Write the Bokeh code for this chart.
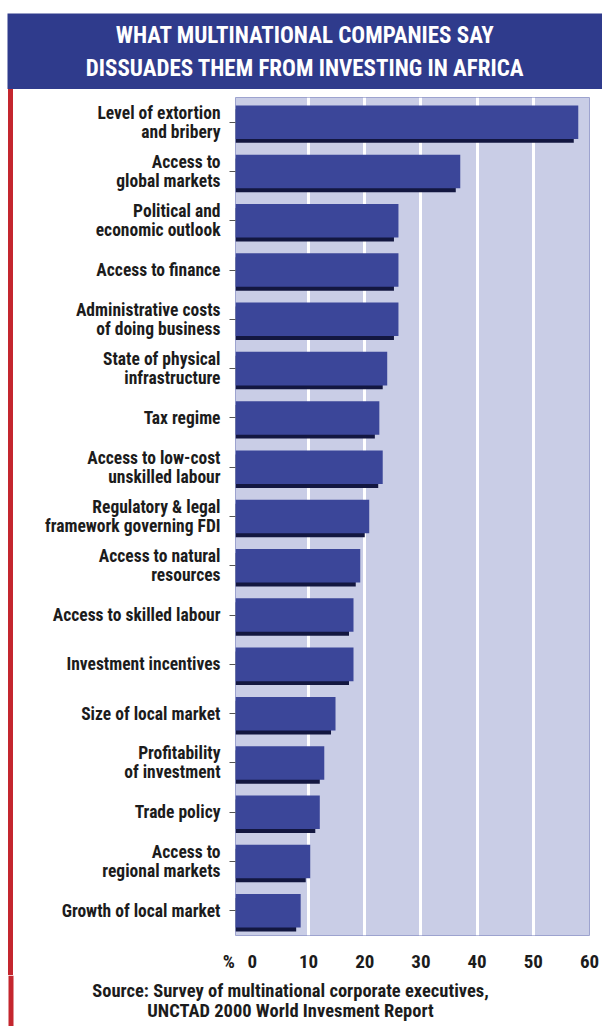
from bokeh.plotting import figure
from bokeh.models import Range1d, FixedTicker, ColumnDataSource, Spacer
from bokeh.transform import dodge
from bokeh.layouts import column, row
from bokeh.embed import file_html
from bokeh.resources import INLINE
from bokeh.core.properties import value

# ---- data ----
title_lines = ["WHAT MULTINATIONAL COMPANIES SAY",
               "DISSUADES THEM FROM INVESTING IN AFRICA"]
categories = [
    "Level of extortion\nand bribery",
    "Access to\nglobal markets",
    "Political and\neconomic outlook",
    "Access to finance",
    "Administrative costs\nof doing business",
    "State of physical\ninfrastructure",
    "Tax regime",
    "Access to low-cost\nunskilled labour",
    "Regulatory & legal\nframework governing FDI",
    "Access to natural\nresources",
    "Access to skilled labour",
    "Investment incentives",
    "Size of local market",
    "Profitability\nof investment",
    "Trade policy",
    "Access to\nregional markets",
    "Growth of local market",
]
percent = [58, 37, 26, 26, 26, 24, 22.6, 23.2, 20.8, 19.2, 18, 18, 14.8, 12.8, 12, 10.3, 8.6]
x_ticks = [0, 10, 20, 30, 40, 50, 60]
unit_label = "%"
source_lines = ["Source: Survey of multinational corporate executives,",
                "UNCTAD 2000 World Invesment Report"]

FONT = "Roboto Condensed"
BLUE = "#2f3b8c"
BAR = "#3b4699"
SHADOW = "#131740"
BG = "#c9cde6"
RED = "#c4262e"
INK = "#1c1c1c"

X0 = -3  # left edge of the plotting area (axis starts slightly before zero)

# ---- title band ----
tf = figure(width=602, height=89, x_range=Range1d(0, 1), y_range=Range1d(0, 1),
            toolbar_location=None, output_backend="svg",
            x_axis_location=None, y_axis_location=None,
            min_border_top=13, min_border_left=7, min_border_right=0, min_border_bottom=0,
            background_fill_color=BLUE, border_fill_color="white", outline_line_color=None)
tf.xgrid.visible = False
tf.ygrid.visible = False
tf.text(x=[0.5, 0.5], y=[0.71, 0.275], text=title_lines,
        text_align="center", text_baseline="middle", text_color="white",
        text_font=value(FONT), text_font_style="bold", text_font_size="23px")

# ---- main chart ----
MAIN_H = 886
src = ColumnDataSource(dict(cat=categories, val=percent,
                            shadow=[v - 0.8 for v in percent]))

p = figure(width=589, height=MAIN_H, y_range=list(reversed(categories)),
           x_range=Range1d(X0, x_ticks[-1]), toolbar_location=None, output_backend="svg",
           min_border_left=222, min_border_right=13, min_border_top=8, min_border_bottom=30,
           background_fill_color=BG, border_fill_color="white",
           outline_line_color="#9da3cf", outline_line_width=1)

p.hbar(y=dodge("cat", -0.08, range=p.y_range), left=X0, right="shadow", height=0.68,
       source=src, fill_color=SHADOW, line_color=None)
p.hbar(y="cat", left=X0, right="val", height=0.68,
       source=src, fill_color=BAR, line_color=None)

p.ygrid.visible = False
p.xgrid.ticker = FixedTicker(ticks=x_ticks[1:-1])
p.xgrid.grid_line_color = "white"
p.xgrid.grid_line_width = 3

p.xaxis.ticker = FixedTicker(ticks=[X0] + x_ticks)
p.xaxis.major_label_overrides = {X0: unit_label + "\u00a0\u00a0\u00a0"}
p.xaxis.axis_line_color = None
p.xaxis.major_tick_line_color = None
p.xaxis.minor_tick_line_color = None
p.xaxis.major_label_standoff = 8
p.xaxis.major_label_text_font = FONT
p.xaxis.major_label_text_font_style = "bold"
p.xaxis.major_label_text_font_size = "19px"
p.xaxis.major_label_text_color = INK

p.yaxis.axis_line_color = None
p.yaxis.major_tick_out = 6
p.yaxis.major_tick_in = 0
p.yaxis.major_tick_line_color = "#555555"
p.yaxis.major_label_standoff = 9
p.yaxis.major_label_text_font = FONT
p.yaxis.major_label_text_font_style = "bold"
p.yaxis.major_label_text_font_size = "17.5px"
p.yaxis.major_label_text_line_height = 0.95
p.yaxis.major_label_text_color = INK

# ---- source note (page-pixel coordinates) ----
SRC_TOP = 89 + MAIN_H
bf = figure(width=602, height=1026 - SRC_TOP, x_range=Range1d(7, 602),
            y_range=Range1d(1026, SRC_TOP), toolbar_location=None, output_backend="svg",
            x_axis_location=None, y_axis_location=None,
            min_border_top=0, min_border_left=7, min_border_right=0, min_border_bottom=0,
            background_fill_color="white", border_fill_color="white", outline_line_color=None)
bf.xgrid.visible = False
bf.ygrid.visible = False
bf.quad(left=[8], right=[13], top=[SRC_TOP], bottom=[1026], fill_color=RED, line_color=None)
bf.text(x=[290, 290], y=[990, 1010], text=source_lines,
        text_align="center", text_baseline="middle", text_color=INK,
        text_font=value(FONT), text_font_style="bold", text_font_size="18.5px")

middle = row(Spacer(width=8, height=MAIN_H),
             Spacer(width=5, height=MAIN_H, styles={"background-color": RED}),
             p, spacing=0)
layout = column(tf, middle, bf, spacing=0)
open("out.html", "w").write(file_html(layout, INLINE))
